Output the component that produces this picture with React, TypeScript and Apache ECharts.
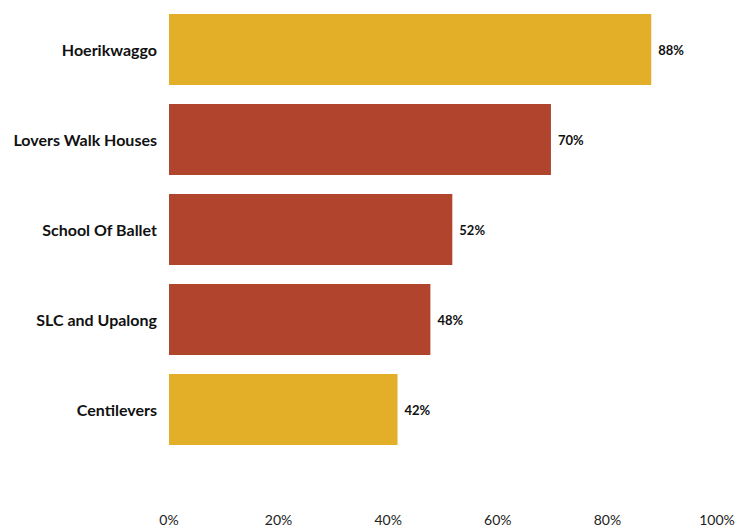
import React, { useEffect, useRef } from "react";
import * as echarts from "echarts";

const categories = ["Hoerikwaggo", "Lovers Walk Houses", "School Of Ballet", "SLC and Upalong", "Centilevers"];
const values = [88, 69.7, 51.7, 47.7, 41.7];
const barColors = ["#E3AF28", "#B1442D", "#B1442D", "#B1442D", "#E3AF28"];
const xTicks = [0, 20, 40, 60, 80, 100];

export default function App() {
  const ref = useRef<HTMLDivElement>(null);
  useEffect(() => {
    if (!ref.current) return;
    const chart = echarts.init(ref.current, undefined, { renderer: "svg" });
    chart.setOption({
      animation: false,
      grid: { left: 169, right: 37, top: 4.5, height: 450 },
      xAxis: {
        type: "value",
        min: xTicks[0],
        max: xTicks[xTicks.length - 1],
        interval: 20,
        offset: 50,
        axisLine: { show: false },
        axisTick: { show: false },
        splitLine: { show: false },
        axisLabel: {
          formatter: (v: number) => `${v}%`,
          fontFamily: "Lato",
          fontSize: 14,
          color: "#222",
          margin: 8,
        },
      },
      yAxis: {
        type: "category",
        data: categories,
        inverse: true,
        axisLine: { show: false },
        axisTick: { show: false },
        axisLabel: {
          fontFamily: "Lato",
          fontWeight: "bold",
          fontSize: 16,
          color: "#111",
          margin: 12,
        },
      },
      series: [
        {
          type: "bar",
          data: values.map((v, i) => ({ value: v, itemStyle: { color: barColors[i] } })),
          barCategoryGap: "21%",
          label: {
            show: true,
            position: "right",
            distance: 7,
            formatter: (p: any) => `${Math.round(p.value)}%`,
            fontFamily: "Lato",
            fontWeight: "bold",
            fontSize: 13,
            color: "#111",
          },
        },
      ],
    });
    return () => chart.dispose();
  }, []);
  return <div ref={ref} style={{ position: "absolute", left: 0, top: 0, width: 754, height: 529 }} />;
}
